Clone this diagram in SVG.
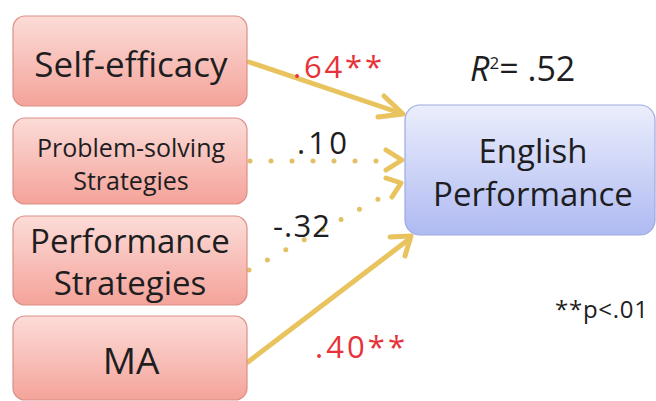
<svg xmlns="http://www.w3.org/2000/svg" width="656" height="401" viewBox="0 0 656 401">
  <defs>
    <linearGradient id="pink" x1="0" y1="0" x2="0" y2="1">
      <stop offset="0" stop-color="#FCDCD8"/>
      <stop offset="1" stop-color="#F4A39A"/>
    </linearGradient>
    <linearGradient id="blue" x1="0" y1="0" x2="0" y2="1">
      <stop offset="0" stop-color="#EBEEFC"/>
      <stop offset="1" stop-color="#AFBAF2"/>
    </linearGradient>
  </defs>
  <style>
    .src { fill: url(#pink); stroke: #DA9088; stroke-width: 1.2; }
    .dst { fill: url(#blue); stroke: #9DA9E2; stroke-width: 1.2; }
    .lbl { font-family: "Open Sans", "Liberation Sans", sans-serif; fill: #1E1E22; text-anchor: middle; }
    .solid { stroke: #E8C35E; stroke-width: 5; fill: none; stroke-linecap: round; }
    .dots { stroke: #E2C063; stroke-width: 5; fill: none; stroke-linecap: round; stroke-dasharray: 0 21; }
    .head { fill: none; stroke: #E8C35E; stroke-width: 5; stroke-linecap: round; stroke-linejoin: round; }
    .coef { font-family: "Open Sans", "Liberation Sans", sans-serif; font-size: 31px; }
    .sig { fill: #E8323A; }
    .ns { fill: #1E1E22; }
  </style>
  <rect width="656" height="401" fill="#FFFFFF"/>

  <!-- connectors -->
  <g id="connectors">
    <line class="solid" x1="249" y1="62" x2="400" y2="113"/>
    <path class="head" d="M384,96 L403,114 L378,117"/>
    <line class="dots" x1="250" y1="161" x2="380" y2="161"/>
    <path class="head" d="M386,150 L402,160 L386,170"/>
    <line class="dots" x1="249" y1="270" x2="382" y2="197"/>
    <path class="head" d="M386,178 L401,183 L392,197"/>
    <line class="solid" x1="248" y1="362" x2="408" y2="240"/>
    <path class="head" d="M390,237 L411,236 L405,256"/>
  </g>

  <!-- predictor nodes -->
  <g id="self-efficacy">
    <rect class="src" x="13" y="16" width="234" height="90" rx="12"/>
    <text class="lbl" x="131" y="77" font-size="35">Self-efficacy</text>
  </g>
  <g id="problem-solving">
    <rect class="src" x="13" y="118" width="234" height="86" rx="12"/>
    <text class="lbl" x="131" y="157" font-size="25">Problem-solving</text>
    <text class="lbl" x="131" y="190" font-size="25">Strategies</text>
  </g>
  <g id="performance-strategies">
    <rect class="src" x="13" y="216" width="234" height="89" rx="12"/>
    <text class="lbl" x="130" y="253" font-size="33">Performance</text>
    <text class="lbl" x="130" y="295" font-size="33">Strategies</text>
  </g>
  <g id="ma">
    <rect class="src" x="13" y="316" width="234" height="84" rx="12"/>
    <text class="lbl" x="131" y="374" font-size="37">MA</text>
  </g>

  <!-- outcome node -->
  <g id="english-performance">
    <rect class="dst" x="405" y="105" width="250" height="130" rx="15"/>
    <text class="lbl" x="533" y="163" font-size="33">English</text>
    <text class="lbl" x="533" y="206" font-size="33">Performance</text>
  </g>

  <!-- path coefficients -->
  <g id="coefficients">
    <text class="coef sig" x="293" y="78" textLength="89">.64**</text>
    <text class="coef ns" x="297" y="154" font-size="27" textLength="50">.10</text>
    <text class="coef ns" x="273" y="237" font-size="27" textLength="57">-.32</text>
    <text class="coef sig" x="315" y="358" textLength="90">.40**</text>
  </g>

  <g id="fit">
    <text x="470" y="81" font-family="'Open Sans', 'Liberation Sans', sans-serif" font-size="34" fill="#1E1E22"><tspan font-style="italic">R</tspan><tspan font-size="17" dy="-12">2</tspan><tspan dy="12">= .52</tspan></text>
    <text x="555" y="318" font-family="'Open Sans', 'Liberation Sans', sans-serif" font-size="24" fill="#1E1E22" textLength="93">**p&lt;.01</text>
  </g>
</svg>
